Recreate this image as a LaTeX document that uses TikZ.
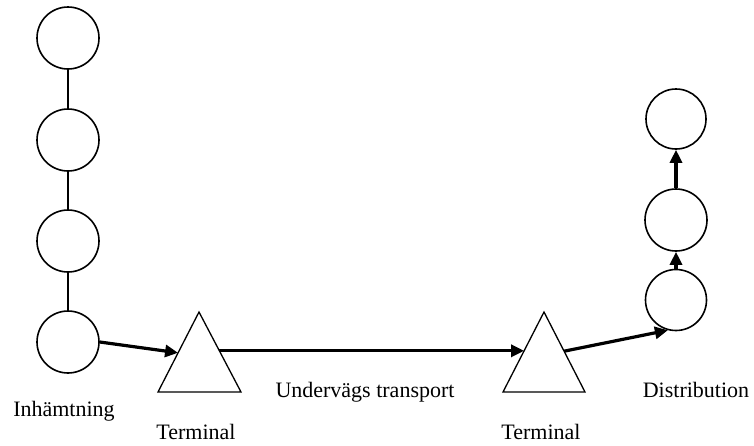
\documentclass[tikz,border=0pt]{standalone}
\usepackage{fontspec}
\setmainfont{Liberation Serif}
\usetikzlibrary{arrows.meta,calc}
\begin{document}
\begin{tikzpicture}[x=1pt,y=-1pt,
  stop/.style={circle,draw,line width=1.6pt,minimum size=62pt,inner sep=0pt},
  link/.style={line width=1.6pt},
  flow/.style={line width=3.2pt,-{Triangle[length=13pt,width=12pt]}},
  term/.style={draw,line width=1.3pt,line join=miter},
  lbl/.style={font=\fontsize{22}{24}\selectfont,anchor=base,inner sep=0pt}]
\useasboundingbox (0,0) rectangle (754,445);

% pick-up chain
\node[stop] (c1) at (68,38) {};
\node[stop] (c2) at (68,140) {};
\node[stop] (c3) at (68,241) {};
\node[stop] (c4) at (68,342) {};
\draw[link] (c1) -- (c2);
\draw[link] (c2) -- (c3);
\draw[link] (c3) -- (c4);

% distribution chain
\node[stop,minimum size=61pt] (d1) at (676,300) {};
\node[stop,minimum size=62pt] (d2) at (676,220) {};
\node[stop,minimum size=60pt] (d3) at (676,119) {};

% terminals
\coordinate (t1a) at (199,312);
\coordinate (t1l) at (158,392);
\coordinate (t1r) at (241,392);
\coordinate (t2a) at (544,312);
\coordinate (t2l) at (503,392);
\coordinate (t2r) at (585,392);
\draw[term] (t1a) -- (t1l) -- (t1r) -- cycle;
\draw[term] (t2a) -- (t2l) -- (t2r) -- cycle;

% flows
\draw[flow] (c4.east) -- ($(t1a)!0.51!(t1l)$);
\draw[flow] ($(t1a)!0.485!(t1r)$) -- ($(t2a)!0.485!(t2l)$);
\draw[flow] ($(t2a)!0.49!(t2r)$) -- (d1.255);
\draw[flow] (d1.north) -- (d2.south);
\draw[flow] (d2.north) -- (d3.south);

% labels
\node[lbl] (l1) at (64,416) {Inhämtning};
\node[lbl] (l2) at (196,439) {Terminal};
\node[lbl] (l3) at (365,397) {Undervägs transport};
\node[lbl] (l4) at (541,439) {Terminal};
\node[lbl] (l5) at (696,397) {Distribution};
\end{tikzpicture}
\end{document}
